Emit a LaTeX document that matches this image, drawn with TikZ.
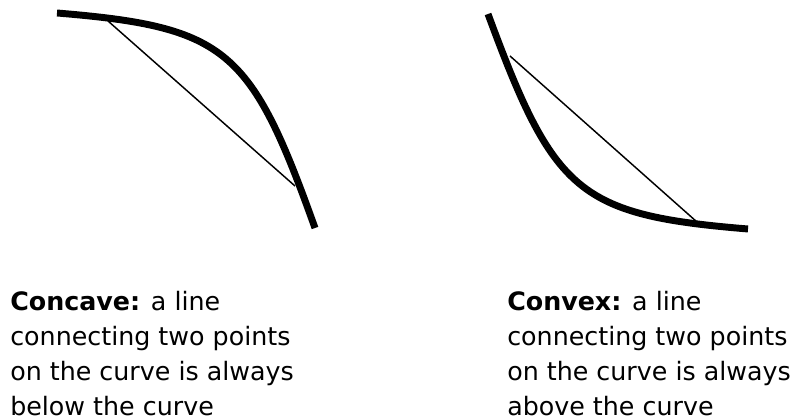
\documentclass[tikz,border=0pt]{standalone}
\usepackage{fontspec}
\setmainfont{DejaVu Sans}
\usetikzlibrary{positioning}

\begin{document}
\begin{tikzpicture}[x=0.75pt,y=-0.75pt,curve/.style={line width=5.2pt},chord/.style={line width=1.1pt},caption/.style={anchor=north west,inner sep=0pt,align=left,font=\fontsize{19}{26.25}\selectfont}]
\useasboundingbox (0,0) rectangle (794,420);
% concave curve and its chord
\draw[curve] (57,13) .. controls (227,27) and (251,49) .. (315,228);
\draw[chord] (108,21) -- (295,186);
% convex curve and its chord
\draw[curve] (488,14) .. controls (554,193) and (578,215) .. (748,229);
\draw[chord] (510,56) -- (697,222);
\node[caption] (concave) at (10,291) {\textbf{Concave:} a line\\connecting two points\\on the curve is always\\below the curve};
\node[caption] (convex) at (507,291) {\textbf{Convex:} a line\\connecting two points\\on the curve is always\\above the curve};
\end{tikzpicture}
\end{document}
